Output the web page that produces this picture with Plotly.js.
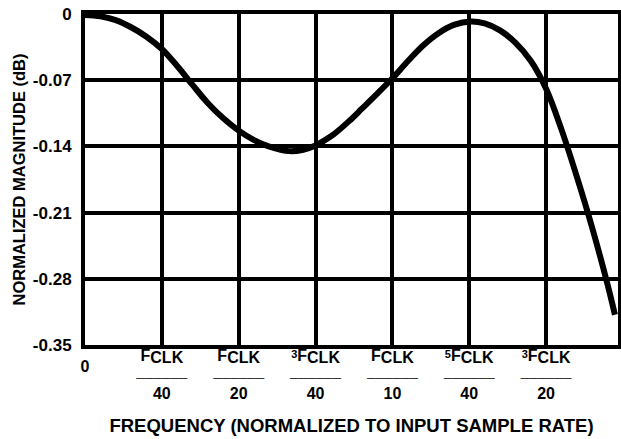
<!DOCTYPE html>
<html>
<head>
<meta charset="utf-8">
<script src="https://cdn.plot.ly/plotly-3.0.1.min.js"></script>
<style>html,body{margin:0;padding:0;background:#fff;}#chart{width:621px;height:439px;}</style>
</head>
<body>
<div id="chart"></div>
<script>
// Frequency (normalized to input sample rate) and normalized magnitude (dB)
const freq = [0, 0.005, 0.01, 0.015, 0.02, 0.025, 0.03, 0.035, 0.04, 0.045, 0.05, 0.055, 0.06, 0.0665, 0.071, 0.075, 0.078, 0.081, 0.086, 0.09, 0.095, 0.1, 0.105, 0.11, 0.115, 0.12, 0.1255, 0.13, 0.135, 0.14, 0.145, 0.15, 0.155, 0.16, 0.165, 0.17, 0.1724];
const mag = [-0.001, -0.0025, -0.0065, -0.014, -0.024, -0.037, -0.055, -0.075, -0.0943, -0.1103, -0.1233, -0.1333, -0.1403, -0.145, -0.1435, -0.139, -0.1335, -0.127, -0.113, -0.1004, -0.0845, -0.068, -0.050, -0.0333, -0.0203, -0.0115, -0.008, -0.010, -0.0173, -0.0303, -0.0495, -0.079, -0.122, -0.172, -0.226, -0.286, -0.318];

const xTickVals = [0, 0.025, 0.05, 0.075, 0.1, 0.125, 0.15];
const xNumerPrefix = ['', '', '', '3', '', '5', '3'];
const xDenoms = ['', '40', '20', '40', '10', '40', '20'];
const yTickVals = [0, -0.07, -0.14, -0.21, -0.28, -0.35];
const yTickText = ['0', '-0.07', '-0.14', '-0.21', '-0.28', '-0.35'];

const BAR = "<span style='font-size:12px;baseline-shift:-2px'>──────</span>";
const xTickText = xTickVals.map((v, i) => {
  if (v === 0) return "<span style='font-size:16px;baseline-shift:-11px'>0</span>";
  const pre = xNumerPrefix[i] ? "<span style='font-size:11px;baseline-shift:3px'>" + xNumerPrefix[i] + "</span>" : '';
  return pre + "<span style='font-size:16px'>F</span><span style='font-size:16px;baseline-shift:-2px'>CLK</span><br>" +
    BAR + "<br><span style='font-size:16px'>" + xDenoms[i] + "</span>";
});

const FONT = 'Liberation Sans, Arial, Helvetica, sans-serif';

const trace = {
  x: freq, y: mag, type: 'scatter', mode: 'lines',
  line: {color: '#000', width: 6, shape: 'spline', smoothing: 1},
  hoverinfo: 'skip'
};

const layout = {
  width: 621, height: 439,
  margin: {l: 85, r: 3, t: 14, b: 94},
  paper_bgcolor: '#fff', plot_bgcolor: '#fff',
  showlegend: false,
  font: {family: FONT, color: '#000'},
  xaxis: {
    range: [0, 0.1734],
    tickmode: 'array', tickvals: xTickVals, ticktext: xTickText,
    tickfont: {family: FONT, size: 14.5, color: '#000', weight: 'bold'},
    ticks: '', showgrid: true, gridcolor: '#000', gridwidth: 4,
    zeroline: false, showline: true, linecolor: '#000', linewidth: 4, mirror: true,
    ticklabelstandoff: -5,
    title: {text: 'FREQUENCY (NORMALIZED TO INPUT SAMPLE RATE)', font: {family: FONT, size: 18.5, color: '#000', weight: 'bold'}, standoff: 19},
    fixedrange: true
  },
  yaxis: {
    range: [-0.35, 0],
    tickmode: 'array', tickvals: yTickVals, ticktext: yTickText,
    tickfont: {family: FONT, size: 17, color: '#000', weight: 'bold'},
    ticks: '', showgrid: true, gridcolor: '#000', gridwidth: 4,
    zeroline: false, showline: true, linecolor: '#000', linewidth: 4, mirror: true,
    ticklabelstandoff: 6,
    title: {text: 'NORMALIZED MAGNITUDE (dB)', font: {family: FONT, size: 16.5, color: '#000', weight: 'bold'}, standoff: 4},
    fixedrange: true
  }
};

Plotly.newPlot('chart', [trace], layout, {displayModeBar: false, staticPlot: true});
</script>
</body>
</html>
